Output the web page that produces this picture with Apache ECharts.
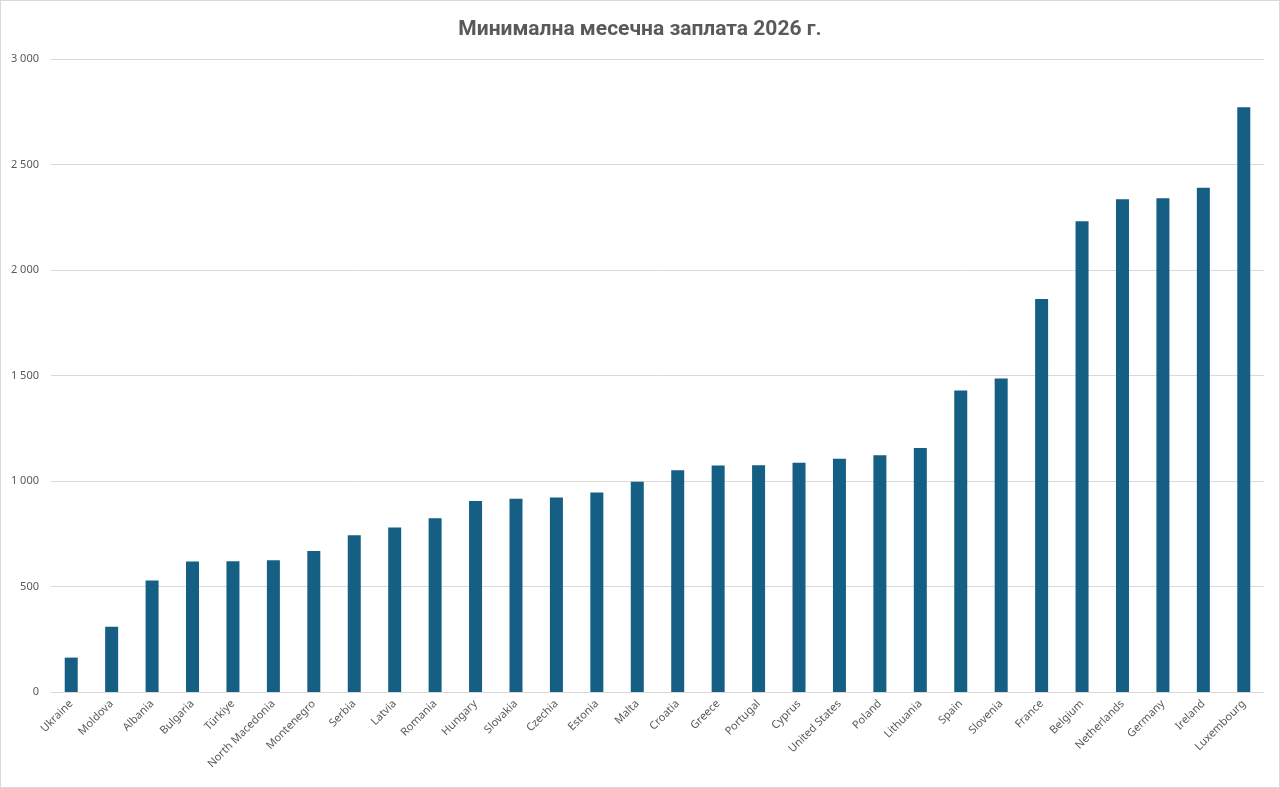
<!DOCTYPE html>
<html>
<head>
<meta charset="utf-8">
<script src="https://cdn.jsdelivr.net/npm/echarts@6/dist/echarts.min.js"></script>
<style>
  html, body { margin: 0; padding: 0; background: #ffffff; }
  #chart { width: 1278px; height: 786px; border: 1px solid #d9d9d9; }
</style>
</head>
<body>
<div id="chart"></div>
<script>
const titleText = "Минимална месечна заплата 2026 г.";

const countries = [
  "Ukraine", "Moldova", "Albania", "Bulgaria", "Türkiye", "North Macedonia",
  "Montenegro", "Serbia", "Latvia", "Romania", "Hungary", "Slovakia",
  "Czechia", "Estonia", "Malta", "Croatia", "Greece", "Portugal", "Cyprus",
  "United States", "Poland", "Lithuania", "Spain", "Slovenia", "France",
  "Belgium", "Netherlands", "Germany", "Ireland", "Luxembourg"
];

const wages = [
  163, 309, 529, 618, 620, 624,
  668, 743, 780, 824, 905, 916,
  922, 946, 997, 1051, 1073, 1075, 1087,
  1105, 1122, 1156, 1429, 1486, 1863,
  2231, 2335, 2340, 2390, 2771
];

const yTicks = [0, 500, 1000, 1500, 2000, 2500, 3000];

const chart = echarts.init(document.getElementById("chart"));

// thousands with a space, like "3 000"
const fmt = v => String(v).replace(/\B(?=(\d{3})+(?!\d))/g, " ");

const option = {
  backgroundColor: "#ffffff",
  animation: false,
  title: {
    text: titleText,
    left: "center",
    top: 13,
    textStyle: {
      fontFamily: "Roboto",
      fontSize: 21,
      fontWeight: "bold",
      color: "#595959"
    }
  },
  grid: { left: 50, right: 15, top: 58, bottom: 95, containLabel: false },
  xAxis: {
    type: "category",
    data: countries,
    axisLine: { lineStyle: { color: "#d9d9d9", width: 1 } },
    axisTick: { show: false },
    axisLabel: {
      rotate: 45,
      interval: 0,
      margin: 10,
      color: "#595959",
      fontFamily: "Noto Sans",
      fontSize: 11
    }
  },
  yAxis: {
    type: "value",
    min: yTicks[0],
    max: yTicks[yTicks.length - 1],
    interval: yTicks[1] - yTicks[0],
    axisLine: { show: false },
    axisTick: { show: false },
    splitLine: { lineStyle: { color: "#d9d9d9", width: 1 } },
    axisLabel: {
      formatter: fmt,
      color: "#595959",
      fontFamily: "Noto Sans",
      fontSize: 11,
      margin: 12
    }
  },
  series: [
    {
      type: "bar",
      data: wages,
      barWidth: 13,
      itemStyle: { color: "#155f84" }
    }
  ]
};

chart.setOption(option);
</script>
</body>
</html>
